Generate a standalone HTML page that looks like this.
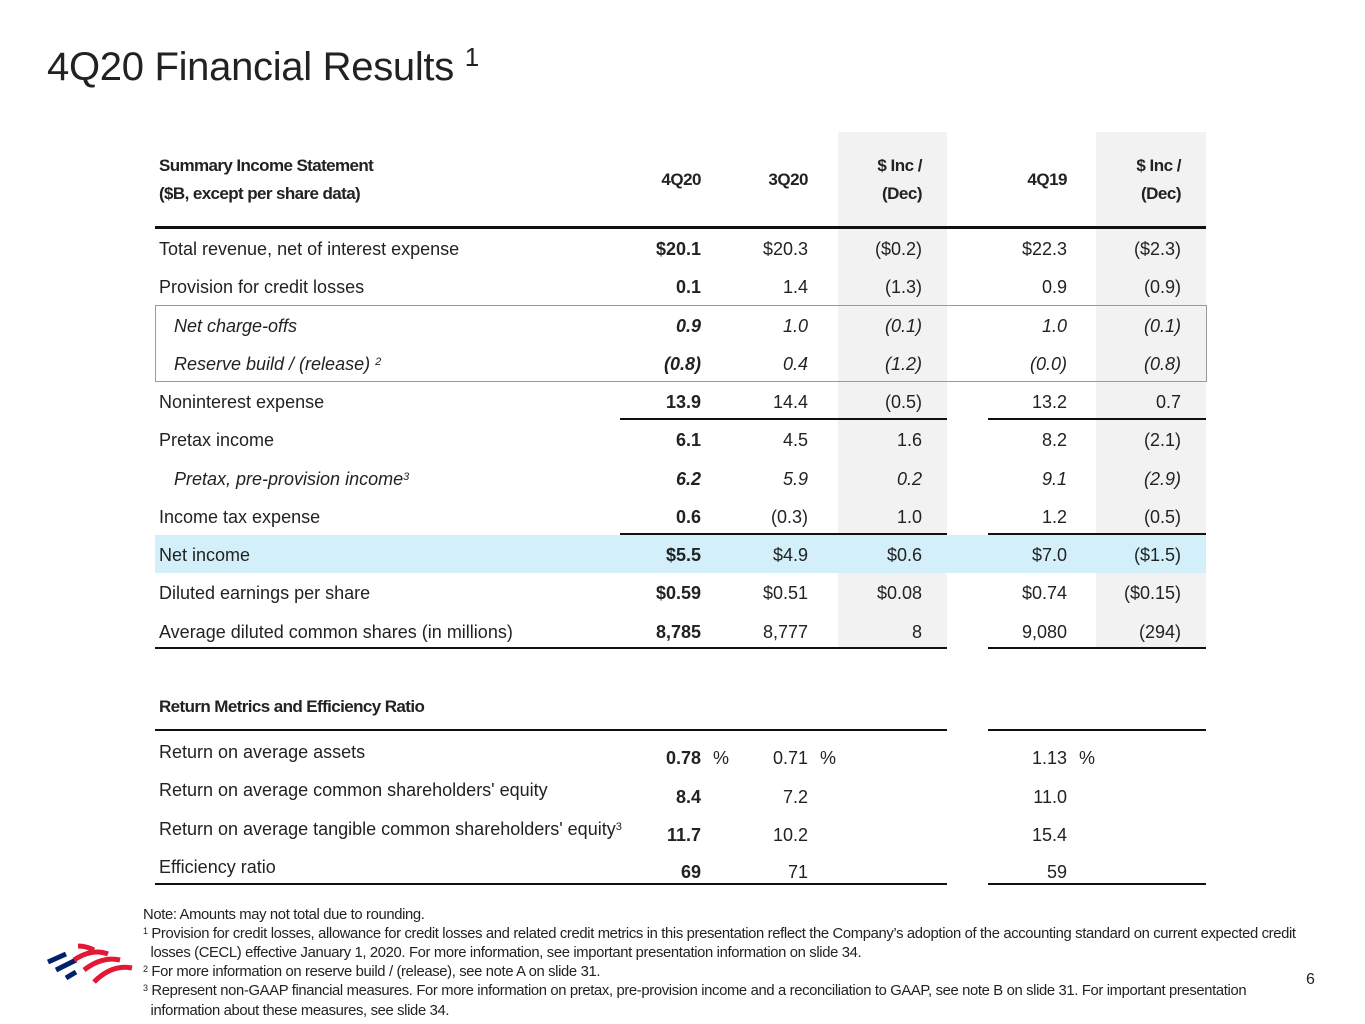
<!DOCTYPE html>
<html><head><meta charset="utf-8"><style>
body{margin:0;width:1365px;height:1024px;background:#fff;position:relative;overflow:hidden;font-family:"Liberation Sans",sans-serif;color:#222}
div{position:absolute}
.t{font-size:18px;line-height:22px;white-space:nowrap;letter-spacing:0px}
.r{text-align:right}
.b{font-weight:bold}
.i{font-style:italic}
.ln{height:2px;background:#111}
sup{font-size:11px;position:relative;top:-5px;vertical-align:baseline}
</style></head><body>
<div class="t" style="left:47px;top:42px;font-size:40px;line-height:50px;letter-spacing:-0.3px">4Q20 Financial Results <sup style="font-size:26px;top:-14px">1</sup></div>

<div style="left:838px;top:132px;width:109px;height:516px;background:#f2f2f2"></div>
<div style="left:1096px;top:132px;width:110px;height:516px;background:#f2f2f2"></div>
<div style="left:155px;top:535px;width:1051px;height:38px;background:#d3f0fa"></div>
<div style="left:155px;top:305px;width:1050px;height:75px;border:1px solid #999"></div>

<div class="ln" style="left:155px;top:226px;width:1051px;height:3px"></div>
<div class="ln" style="left:620px;top:418px;width:327px"></div>
<div class="ln" style="left:988px;top:418px;width:218px"></div>
<div class="ln" style="left:620px;top:533px;width:327px"></div>
<div class="ln" style="left:988px;top:533px;width:218px"></div>
<div class="ln" style="left:155px;top:647px;width:792px"></div>
<div class="ln" style="left:988px;top:647px;width:218px"></div>
<div class="ln" style="left:155px;top:729px;width:792px"></div>
<div class="ln" style="left:988px;top:729px;width:218px"></div>
<div class="ln" style="left:155px;top:883px;width:792px"></div>
<div class="ln" style="left:988px;top:883px;width:218px"></div>

<div class="t b" style="left:159px;top:155px;font-size:17px;letter-spacing:-0.6px">Summary Income Statement</div>
<div class="t b" style="left:159px;top:183px;font-size:17px;letter-spacing:-0.6px">($B, except per share data)</div>
<div class="t b r" style="right:664px;top:169px;font-size:17px;letter-spacing:-0.5px">4Q20</div>
<div class="t b r" style="right:557px;top:169px;font-size:17px;letter-spacing:-0.5px">3Q20</div>
<div class="t b r" style="right:443px;top:155px;font-size:17px;letter-spacing:-0.5px">$ Inc /</div>
<div class="t b r" style="right:443px;top:183px;font-size:17px;letter-spacing:-0.5px">(Dec)</div>
<div class="t b r" style="right:298px;top:169px;font-size:17px;letter-spacing:-0.5px">4Q19</div>
<div class="t b r" style="right:184px;top:155px;font-size:17px;letter-spacing:-0.5px">$ Inc /</div>
<div class="t b r" style="right:184px;top:183px;font-size:17px;letter-spacing:-0.5px">(Dec)</div>

<div class="t" style="left:159px;top:238px">Total revenue, net of interest expense</div>
<div class="t b r" style="right:664px;top:238px">$20.1</div><div class="t r" style="right:557px;top:238px">$20.3</div><div class="t r" style="right:443px;top:238px">($0.2)</div><div class="t r" style="right:298px;top:238px">$22.3</div><div class="t r" style="right:184px;top:238px">($2.3)</div>

<div class="t" style="left:159px;top:276px">Provision for credit losses</div>
<div class="t b r" style="right:664px;top:276px">0.1</div><div class="t r" style="right:557px;top:276px">1.4</div><div class="t r" style="right:443px;top:276px">(1.3)</div><div class="t r" style="right:298px;top:276px">0.9</div><div class="t r" style="right:184px;top:276px">(0.9)</div>

<div class="t i" style="left:174px;top:315px">Net charge-offs</div>
<div class="t b i r" style="right:664px;top:315px">0.9</div><div class="t i r" style="right:557px;top:315px">1.0</div><div class="t i r" style="right:443px;top:315px">(0.1)</div><div class="t i r" style="right:298px;top:315px">1.0</div><div class="t i r" style="right:184px;top:315px">(0.1)</div>

<div class="t i" style="left:174px;top:353px">Reserve build / (release) <sup>2</sup></div>
<div class="t b i r" style="right:664px;top:353px">(0.8)</div><div class="t i r" style="right:557px;top:353px">0.4</div><div class="t i r" style="right:443px;top:353px">(1.2)</div><div class="t i r" style="right:298px;top:353px">(0.0)</div><div class="t i r" style="right:184px;top:353px">(0.8)</div>

<div class="t" style="left:159px;top:391px">Noninterest expense</div>
<div class="t b r" style="right:664px;top:391px">13.9</div><div class="t r" style="right:557px;top:391px">14.4</div><div class="t r" style="right:443px;top:391px">(0.5)</div><div class="t r" style="right:298px;top:391px">13.2</div><div class="t r" style="right:184px;top:391px">0.7</div>

<div class="t" style="left:159px;top:429px">Pretax income</div>
<div class="t b r" style="right:664px;top:429px">6.1</div><div class="t r" style="right:557px;top:429px">4.5</div><div class="t r" style="right:443px;top:429px">1.6</div><div class="t r" style="right:298px;top:429px">8.2</div><div class="t r" style="right:184px;top:429px">(2.1)</div>

<div class="t i" style="left:174px;top:468px">Pretax, pre-provision income<sup>3</sup></div>
<div class="t b i r" style="right:664px;top:468px">6.2</div><div class="t i r" style="right:557px;top:468px">5.9</div><div class="t i r" style="right:443px;top:468px">0.2</div><div class="t i r" style="right:298px;top:468px">9.1</div><div class="t i r" style="right:184px;top:468px">(2.9)</div>

<div class="t" style="left:159px;top:506px">Income tax expense</div>
<div class="t b r" style="right:664px;top:506px">0.6</div><div class="t r" style="right:557px;top:506px">(0.3)</div><div class="t r" style="right:443px;top:506px">1.0</div><div class="t r" style="right:298px;top:506px">1.2</div><div class="t r" style="right:184px;top:506px">(0.5)</div>

<div class="t" style="left:159px;top:544px">Net income</div>
<div class="t b r" style="right:664px;top:544px">$5.5</div><div class="t r" style="right:557px;top:544px">$4.9</div><div class="t r" style="right:443px;top:544px">$0.6</div><div class="t r" style="right:298px;top:544px">$7.0</div><div class="t r" style="right:184px;top:544px">($1.5)</div>

<div class="t" style="left:159px;top:582px">Diluted earnings per share</div>
<div class="t b r" style="right:664px;top:582px">$0.59</div><div class="t r" style="right:557px;top:582px">$0.51</div><div class="t r" style="right:443px;top:582px">$0.08</div><div class="t r" style="right:298px;top:582px">$0.74</div><div class="t r" style="right:184px;top:582px">($0.15)</div>

<div class="t" style="left:159px;top:621px">Average diluted common shares (in millions)</div>
<div class="t b r" style="right:664px;top:621px">8,785</div><div class="t r" style="right:557px;top:621px">8,777</div><div class="t r" style="right:443px;top:621px">8</div><div class="t r" style="right:298px;top:621px">9,080</div><div class="t r" style="right:184px;top:621px">(294)</div>

<div class="t b" style="left:159px;top:696px;font-size:17px;letter-spacing:-0.6px">Return Metrics and Efficiency Ratio</div>

<div class="t" style="left:159px;top:741px">Return on average assets</div>
<div class="t b r" style="right:664px;top:747px">0.78</div><div class="t" style="left:713px;top:747px">%</div>
<div class="t r" style="right:557px;top:747px">0.71</div><div class="t" style="left:820px;top:747px">%</div>
<div class="t r" style="right:298px;top:747px">1.13</div><div class="t" style="left:1079px;top:747px">%</div>

<div class="t" style="left:159px;top:779px">Return on average common shareholders' equity</div>
<div class="t b r" style="right:664px;top:786px">8.4</div><div class="t r" style="right:557px;top:786px">7.2</div><div class="t r" style="right:298px;top:786px">11.0</div>

<div class="t" style="left:159px;top:818px">Return on average tangible common shareholders' equity<sup>3</sup></div>
<div class="t b r" style="right:664px;top:824px">11.7</div><div class="t r" style="right:557px;top:824px">10.2</div><div class="t r" style="right:298px;top:824px">15.4</div>

<div class="t" style="left:159px;top:856px">Efficiency ratio</div>
<div class="t b r" style="right:664px;top:861px">69</div><div class="t r" style="right:557px;top:861px">71</div><div class="t r" style="right:298px;top:861px">59</div>

<div style="left:143px;top:906px;font-size:14.8px;line-height:18.5px;color:#222;white-space:nowrap;letter-spacing:-0.35px">
Note: Amounts may not total due to rounding.<br>
<sup style="font-size:9px;top:-4px">1</sup> Provision for credit losses, allowance for credit losses and related credit metrics in this presentation reflect the Company’s adoption of the accounting standard on current expected credit<br>
&nbsp;&nbsp;losses (CECL) effective January 1, 2020. For more information, see important presentation information on slide 34.<br>
<sup style="font-size:9px;top:-4px">2</sup> For more information on reserve build / (release), see note A on slide 31.<br>
<sup style="font-size:9px;top:-4px">3</sup> Represent non-GAAP financial measures. For more information on pretax, pre-provision income and a reconciliation to GAAP, see note B on slide 31. For important presentation<br>
&nbsp;&nbsp;information about these measures, see slide 34.
</div>
<div class="t" style="left:1306px;top:969px;font-size:16px">6</div>

<svg style="position:absolute;left:44px;top:940px" width="92" height="56" viewBox="0 0 92 56">
<g stroke-linecap="butt" fill="none">
<path d="M4 22 L22 14" stroke="#012169" stroke-width="5"/>
<path d="M12 30 L32 20" stroke="#012169" stroke-width="5"/>
<path d="M22 38 L32 32" stroke="#012169" stroke-width="5"/>
<path d="M34 6 Q42 6 50 10" stroke="#e31837" stroke-width="5"/>
<path d="M30 20 Q48 8 64 14" stroke="#e31837" stroke-width="5"/>
<path d="M40 30 Q58 16 76 20" stroke="#e31837" stroke-width="5"/>
<path d="M50 42 Q68 24 88 28" stroke="#e31837" stroke-width="5"/>
</g>
</svg>
</body></html>
